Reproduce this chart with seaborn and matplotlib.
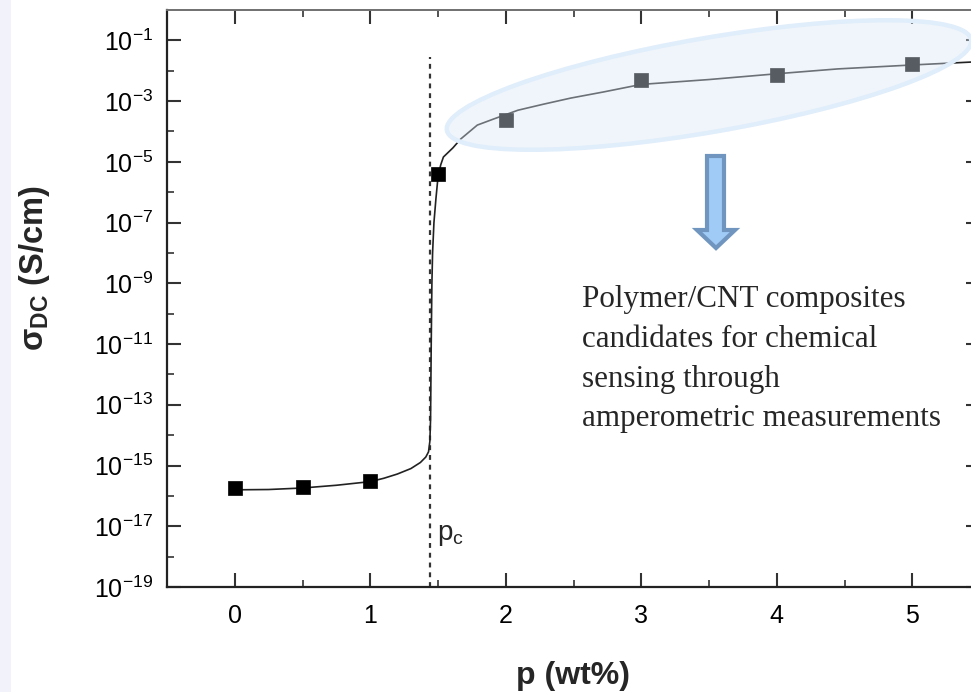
import numpy as np
import seaborn as sns
import matplotlib.pyplot as plt
from matplotlib.patches import Ellipse, Polygon, Rectangle
from matplotlib.ticker import FixedLocator, FixedFormatter, NullFormatter

# measured points: filler content p (wt%) and log10 of sigma_DC (S/cm)
p_points = [0.0, 0.5, 1.0, 1.5, 2.0, 3.0, 4.0, 5.0]
log_sigma_points = [-15.74, -15.71, -15.51, -5.40, -3.63, -2.32, -2.14, -1.78]

# fitted percolation curve
p_curve = [0.0, 0.25, 0.5, 0.75, 1.0, 1.1, 1.2, 1.3, 1.37, 1.41, 1.43, 1.44,
           1.445, 1.45, 1.455, 1.46, 1.47, 1.485, 1.50, 1.52, 1.54, 1.61,
           1.667, 1.79, 1.91, 2.09, 2.28, 2.48, 2.72, 3.0, 3.5, 4.0, 4.45,
           5.0, 5.5]
log_sigma_curve = [-15.80, -15.79, -15.74, -15.65, -15.53, -15.42, -15.28,
                   -15.10, -14.90, -14.72, -14.55, -14.2, -13.5, -11.0, -9.0,
                   -8.0, -7.0, -6.2, -5.5, -5.1, -4.84, -4.54, -4.25, -3.79,
                   -3.59, -3.30, -3.10, -2.90, -2.70, -2.45, -2.29, -2.10,
                   -1.94, -1.81, -1.70]

# percolation threshold marker line
p_c = 1.44
p_c_line_top = -1.56

x_ticks = [0, 1, 2, 3, 4, 5]
y_exponents = [-19, -17, -15, -13, -11, -9, -7, -5, -3, -1]

note = ("Polymer/CNT composites\ncandidates for chemical\n"
        "sensing through\namperometric measurements")

sns.set_style("ticks")
plt.rcParams["font.family"] = ["Liberation Sans", "DejaVu Sans"]
plt.rcParams["mathtext.fontset"] = "custom"
plt.rcParams["mathtext.rm"] = "Liberation Sans"
plt.rcParams["mathtext.bf"] = "Liberation Sans:bold"
plt.rcParams["mathtext.it"] = "Liberation Sans:italic"

W, H = 971, 692
fig = plt.figure(figsize=(W / 100, H / 100), dpi=100)
fig.patch.set_facecolor("white")
# pale strip on the left edge of the slide
fig.add_artist(Rectangle((0, 0), 11 / W, 1, transform=fig.transFigure,
                         facecolor="#f2f3fa", edgecolor="none", zorder=0))

ax = fig.add_axes([167 / W, 1 - 587 / H, 813 / W, 577 / H])

sns.lineplot(x=p_curve, y=10.0 ** np.array(log_sigma_curve), ax=ax,
             sort=False, estimator=None, color="#222222", lw=1.2, zorder=2)
sns.scatterplot(x=p_points, y=10.0 ** np.array(log_sigma_points), ax=ax,
                marker="s", s=90, color="black", edgecolor="black",
                linewidth=0.5, zorder=3)
ax.vlines(p_c, 1e-19, 10 ** p_c_line_top, colors="#333333",
          linestyles=(0, (2.2, 2.2)), lw=1.6, zorder=1)

ax.set_yscale("log")
ax.set_xlim(-0.5, 5.5)
ax.set_ylim(1e-19, 1.0)

ax.xaxis.set_major_locator(FixedLocator(x_ticks))
ax.xaxis.set_minor_locator(FixedLocator([t + 0.5 for t in x_ticks]))
ax.yaxis.set_major_locator(FixedLocator([10.0 ** e for e in y_exponents]))
ax.yaxis.set_major_formatter(
    FixedFormatter([r"$\mathregular{10^{%d}}$" % e for e in y_exponents]))
ax.yaxis.set_minor_locator(FixedLocator([10.0 ** (e + 1) for e in y_exponents[:-1]]))
ax.yaxis.set_minor_formatter(NullFormatter())
ax.xaxis.set_minor_formatter(NullFormatter())

ax.tick_params(which="both", direction="in", top=True, right=True,
               colors="#333333", labelcolor="black")
ax.tick_params(which="major", length=10, width=1.5, labelsize=18)
ax.tick_params(which="minor", length=5, width=1.2)
ax.tick_params(axis="x", which="major", pad=12)
ax.tick_params(axis="y", which="major", pad=10)

for side in ["left", "bottom", "right"]:
    ax.spines[side].set_color("#222222")
    ax.spines[side].set_linewidth(1.6)
ax.spines["top"].set_color("#707070")
ax.spines["top"].set_linewidth(1.4)

ax.set_xlabel("p (wt%)", fontsize=23, fontweight="bold")
ax.xaxis.set_label_coords(0.5, -0.1545)
ax.xaxis.label.set_verticalalignment("center")
ax.set_ylabel(r"σ$_{\mathbf{DC}}$ (S/cm)", fontsize=23.5, fontweight="bold")
ax.yaxis.set_label_coords(-0.163, 0.553)
ax.yaxis.label.set_verticalalignment("center")

ax.text(p_c + 0.05, 10 ** -17.3, r"p$_\mathregular{c}$", fontsize=20,
        ha="left", va="center")

# highlight ellipse over the high-conductivity points
ell_center = (709 / 100, (H - 85) / 100)
fig.add_artist(Ellipse(ell_center, 5.32, 0.94, angle=9.8,
                       transform=fig.dpi_scale_trans, facecolor="#d9e8f7",
                       alpha=0.4, edgecolor="none", zorder=5))
fig.add_artist(Ellipse(ell_center, 5.32, 0.94, angle=9.8,
                       transform=fig.dpi_scale_trans, facecolor="none",
                       edgecolor="#e0edfa", lw=3.2, zorder=6))

# down arrow
arrow_px = [(707, 156), (724, 156), (724, 230), (735, 230), (716, 248),
            (697, 230), (707, 230)]
fig.add_artist(Polygon([(x / 100, (H - y) / 100) for x, y in arrow_px],
                       closed=True, transform=fig.dpi_scale_trans,
                       facecolor="#9fcbf6", edgecolor="#7096c0", lw=3.0,
                       joinstyle="miter", zorder=6))

fig.text(582 / W, 1 - 285 / H, note, family=["Liberation Serif", "DejaVu Serif"],
         fontsize=22.4, ha="left", va="top", linespacing=1.49, zorder=7)

fig.savefig("out.png", dpi=100)
